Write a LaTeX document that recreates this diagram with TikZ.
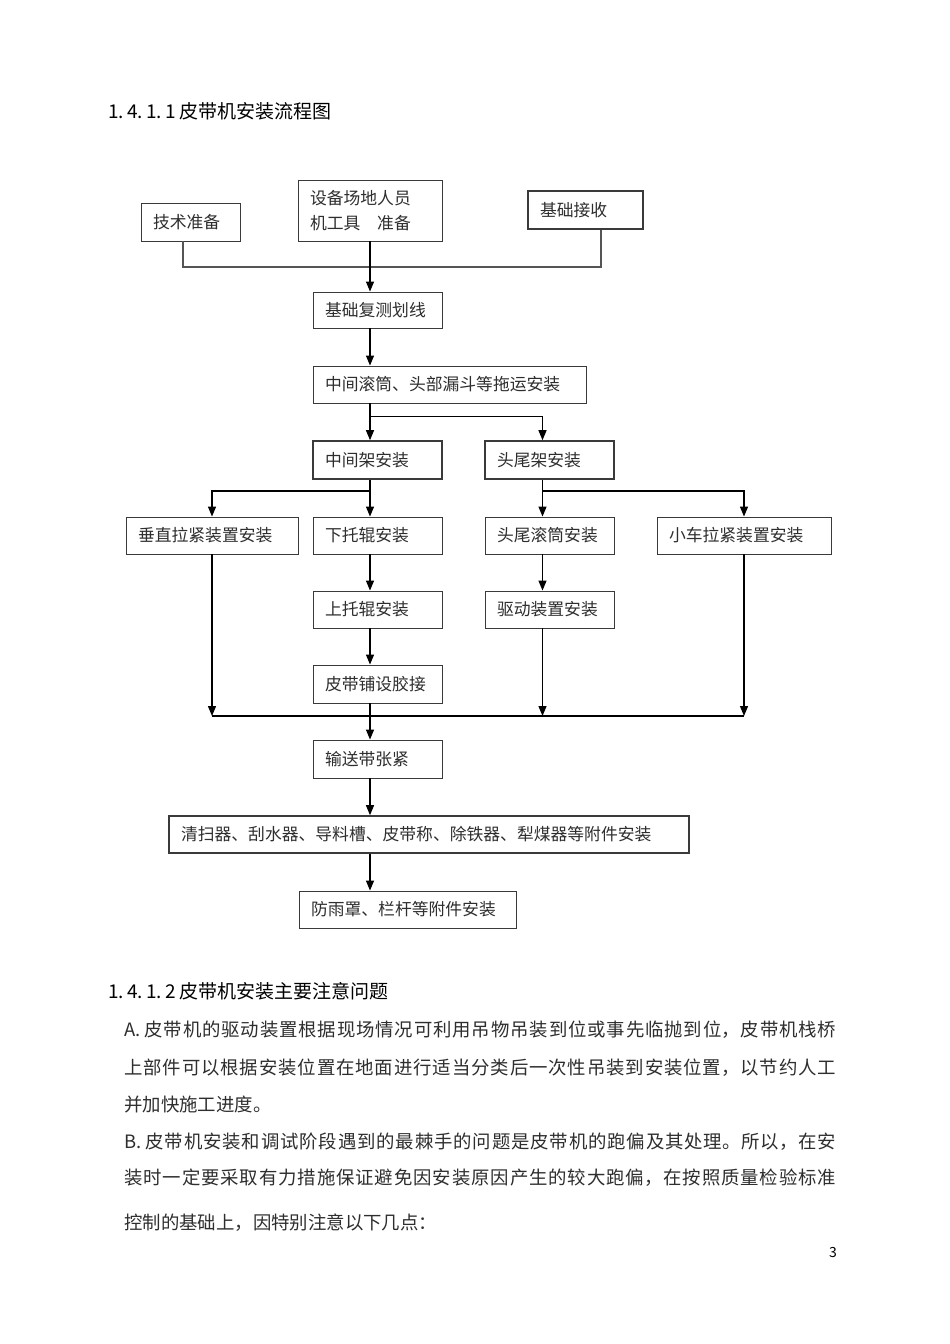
\documentclass[tikz,border=0pt]{standalone}
\usepackage{fontspec}
\newfontfamily\cjk{Noto Sans CJK SC}
\usetikzlibrary{arrows.meta}
\definecolor{boxgray}{HTML}{3A3A3A}
\definecolor{textgray}{HTML}{2E2E2E}
\definecolor{linegray}{HTML}{555555}
\newcommand\bodyfont{\cjk\fontsize{18.4}{22}\selectfont}
\newcommand\fullline[1]{\parbox{712pt}{\XeTeXlinebreaklocale "zh"\XeTeXlinebreakskip=0pt plus 1fil\parfillskip=0pt\noindent #1}}

\begin{document}
\begin{tikzpicture}[x=1pt,y=-1pt,
  box/.style={draw=boxgray,line width=0.9pt,inner xsep=12pt,inner ysep=0pt,align=left,text=textgray,font=\cjk\fontsize{16.8}{25}\selectfont},
  boldbox/.style={box,line width=1.6pt},
  arr/.style={line width=1.2pt,-{Triangle[length=10pt,width=8pt]}},
  conn/.style={draw=linegray,line width=1.2pt},
  heading/.style={anchor=west,inner sep=0pt,font=\cjk\fontsize{19}{22}\selectfont},
  bodyline/.style={anchor=west,inner sep=0pt,text=textgray,font=\bodyfont}]
\fill[white] (0,0) rectangle (950,1344);
\useasboundingbox (0,0) rectangle (950,1344);

\node[heading] (title1) at (108,111) {1.\,4.\,1.\,1 皮带机安装流程图};

\node[box,text width=75pt,minimum height=38pt] (jishu) at (190.5,222) {技术准备};
\node[box,text width=120pt,minimum height=61pt] (shebei) at (370,210.5) {设备场地人员\\机工具\hspace{1em}准备};
\node[boldbox,text width=91pt,minimum height=38pt] (jichu) at (585.5,210) {基础接收};
\node[box,text width=105pt,minimum height=36pt] (fuce) at (377.5,310) {基础复测划线};
\node[box,text width=249pt,minimum height=37pt] (tuoyun) at (449.5,384.5) {中间滚筒、头部漏斗等拖运安装};
\node[boldbox,text width=105pt,minimum height=38pt] (zhongjia) at (377.5,460) {中间架安装};
\node[boldbox,text width=105pt,minimum height=38pt] (toujia) at (549.5,460) {头尾架安装};
\node[box,text width=148pt,minimum height=37pt] (chuizhi) at (212,535.5) {垂直拉紧装置安装};
\node[box,text width=105pt,minimum height=37pt] (xiatuo) at (377.5,535.5) {下托辊安装};
\node[box,text width=105pt,minimum height=37pt] (guntong) at (549.5,535.5) {头尾滚筒安装};
\node[box,text width=150pt,minimum height=37pt] (xiaoche) at (744,535.5) {小车拉紧装置安装};
\node[box,text width=105pt,minimum height=37pt] (shangtuo) at (377.5,609.5) {上托辊安装};
\node[box,text width=105pt,minimum height=37pt] (qudong) at (549.5,609.5) {驱动装置安装};
\node[box,text width=105pt,minimum height=38pt] (jiaojie) at (377.5,684) {皮带铺设胶接};
\node[box,text width=105pt,minimum height=38pt] (zhangjin) at (377.5,759) {输送带张紧};
\node[boldbox,text width=496pt,minimum height=37pt] (fujian) at (429,834.5) {清扫器、刮水器、导料槽、皮带称、除铁器、犁煤器等附件安装};
\node[box,text width=193pt,minimum height=37pt] (yupeng) at (407.5,909.5) {防雨罩、栏杆等附件安装};

\coordinate (sp) at (370,0);
\coordinate (ja) at (183,267);
\coordinate (jb) at (601,267);
\coordinate (b1) at (542.5,416.7);
\coordinate (b2) at (212,491);
\coordinate (b3) at (744,491);
\coordinate (m1) at (212,716);
\coordinate (m2) at (744,716);

\draw[conn] (jishu.south -| ja) -- (ja) -- (jb) -- (jichu.south -| jb);
\draw[arr] (shebei.south -| sp) -- (fuce.north -| sp);
\draw[arr] (fuce.south -| sp) -- (tuoyun.north -| sp);
\draw[arr] (tuoyun.south -| sp) -- (zhongjia.north -| sp);
\draw[arr] (tuoyun.south -| sp) |- (b1) -- (toujia.north -| b1);
\draw[arr] (zhongjia.south -| sp) -- (xiatuo.north -| sp);
\draw[arr] (zhongjia.south -| sp) |- (b2) -- (chuizhi.north -| b2);
\draw[arr] (toujia.south -| b1) -- (guntong.north -| b1);
\draw[arr] (toujia.south -| b1) |- (b3) -- (xiaoche.north -| b3);
\draw[arr] (xiatuo.south -| sp) -- (shangtuo.north -| sp);
\draw[arr] (shangtuo.south -| sp) -- (jiaojie.north -| sp);
\draw[arr] (guntong.south -| b1) -- (qudong.north -| b1);
\draw[conn,draw=black] (m1) -- (m2);
\draw[arr] (chuizhi.south -| m1) -- (m1);
\draw[arr] (qudong.south -| b1) -- (b1 |- m1);
\draw[arr] (xiaoche.south -| m2) -- (m2);
\draw[arr] (jiaojie.south -| sp) -- (zhangjin.north -| sp);
\draw[arr] (zhangjin.south -| sp) -- (fujian.north -| sp);
\draw[arr] (fujian.south -| sp) -- (yupeng.north -| sp);

\node[heading] (title2) at (108,991) {1.\,4.\,1.\,2 皮带机安装主要注意问题};
\node[bodyline] (lineA) at (124,1030) {\fullline{A. 皮带机的驱动装置根据现场情况可利用吊物吊装到位或事先临抛到位，皮带机栈桥}};
\node[bodyline] (lineA2) at (124,1068) {\fullline{上部件可以根据安装位置在地面进行适当分类后一次性吊装到安装位置，以节约人工}};
\node[bodyline] (lineA3) at (124,1105) {并加快施工进度。};
\node[bodyline] (lineB) at (124,1142) {\fullline{B. 皮带机安装和调试阶段遇到的最棘手的问题是皮带机的跑偏及其处理。所以，在安}};
\node[bodyline] (lineB2) at (124,1178) {\fullline{装时一定要采取有力措施保证避免因安装原因产生的较大跑偏，在按照质量检验标准}};
\node[bodyline] (lineB3) at (124,1223) {控制的基础上，因特别注意以下几点：};
\node[inner sep=0pt,font=\cjk\fontsize{14}{16}\selectfont] (pagenum) at (833,1252) {3};
\end{tikzpicture}
\end{document}
